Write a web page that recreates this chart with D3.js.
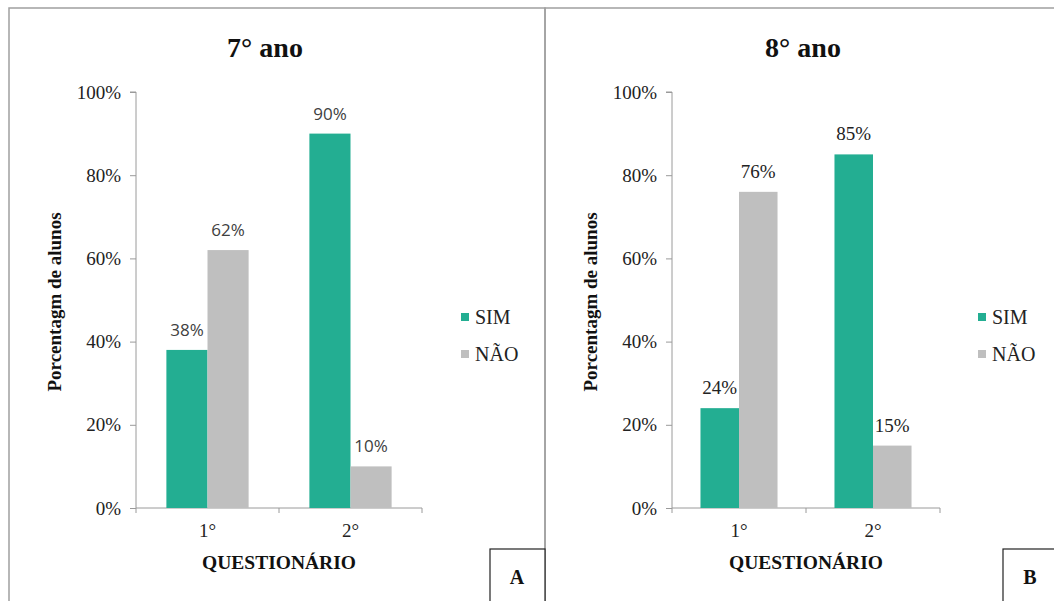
<!DOCTYPE html>
<html>
<head>
<meta charset="utf-8">
<script src="https://cdn.jsdelivr.net/npm/d3@7"></script>
<style>
  html, body { margin: 0; padding: 0; background: #fff; }
  svg { display: block; }
</style>
</head>
<body>
<svg id="chart" width="1054" height="601"></svg>
<script>
// ---- data ----
const categories = ["1°", "2°"];
const seriesNames = ["SIM", "NÃO"];
const sim7 = [38, 90];
const nao7 = [62, 10];
const sim8 = [24, 85];
const nao8 = [76, 15];
const valueLabels7 = ["38%", "62%", "90%", "10%"];
const valueLabels8 = ["24%", "76%", "85%", "15%"];
const yTicks = [0, 20, 40, 60, 80, 100];
const panelTitles = ["7° ano", "8° ano"];
const panelTags = ["A", "B"];
const yAxisTitle = "Porcentagm de alunos";
const xAxisTitle = "QUESTIONÁRIO";

const colors = { "SIM": "#23ae92", "NÃO": "#bfbfbf" };
const serif = "'Liberation Serif', 'Times New Roman', serif";
const sans = "'Open Sans', 'Noto Sans', sans-serif";

const svg = d3.select("#chart");

// panel frames
svg.append("rect").attr("x", 9).attr("y", 8).attr("width", 536).attr("height", 610)
  .attr("fill", "none").attr("stroke", "#a0a0a0").attr("stroke-width", 1.5);
svg.append("rect").attr("x", 545).attr("y", 8).attr("width", 520).attr("height", 610)
  .attr("fill", "none").attr("stroke", "#a0a0a0").attr("stroke-width", 1.5);

const panels = [
  { sim: sim7, nao: nao7, labels: valueLabels7, title: panelTitles[0], tag: panelTags[0],
    x0: 136, x1: 422, titleX: 265, yTitleX: 55, legX: 461, tagBox: [490, 549, 55],
    labelFont: sans, labelSize: 17, labelFill: "#404040" },
  { sim: sim8, nao: nao8, labels: valueLabels8, title: panelTitles[1], tag: panelTags[1],
    x0: 672, x1: 940, titleX: 803, yTitleX: 591, legX: 978, tagBox: [1003, 549, 60],
    labelFont: serif, labelSize: 19, labelFill: "#222" }
];

const yTop = 92, yBot = 508;

panels.forEach(p => {
  const g = svg.append("g");
  const y = d3.scaleLinear().domain([0, 100]).range([yBot, yTop]);
  const x = d3.scaleBand().domain(categories).range([p.x0, p.x1])
    .paddingInner(0.425).paddingOuter(0.2125);
  const xs = d3.scaleBand().domain(seriesNames).range([0, x.bandwidth()]);

  // title
  g.append("text").attr("x", p.titleX).attr("y", 57).attr("text-anchor", "middle")
    .attr("font-family", serif).attr("font-weight", "bold").attr("font-size", 28)
    .attr("fill", "#111").text(p.title);

  // y axis
  const yAxis = d3.axisLeft(y).tickValues(yTicks).tickSize(6).tickPadding(9)
    .tickFormat(d => d + "%");
  const ya = g.append("g").attr("transform", `translate(${p.x0},0)`).call(yAxis);
  ya.select(".domain").attr("stroke", "#9a9a9a").attr("d", `M-6,${yTop}H0V${yBot}`);
  ya.selectAll(".tick line").attr("stroke", "#9a9a9a");
  ya.selectAll(".tick text").attr("font-family", serif).attr("font-size", 19).attr("fill", "#222");

  // x axis
  const xa = g.append("g").attr("transform", `translate(0,${yBot})`);
  xa.append("path").attr("d", `M${p.x0},0H${p.x1}`).attr("stroke", "#9a9a9a").attr("fill", "none");
  const tickXs = [p.x0, ...categories.slice(1).map(c => x(c) - x.step() * x.paddingInner() / 2), p.x1];
  xa.selectAll("line.t").data(tickXs).join("line").attr("class", "t")
    .attr("x1", d => d).attr("x2", d => d).attr("y1", 0).attr("y2", 5).attr("stroke", "#9a9a9a");
  xa.selectAll("text.c").data(categories).join("text").attr("class", "c")
    .attr("x", d => x(d) + x.bandwidth() / 2).attr("y", 29).attr("text-anchor", "middle")
    .attr("font-family", serif).attr("font-size", 19).attr("fill", "#222").text(d => d);

  // axis titles
  g.append("text").attr("x", (p.x0 + p.x1) / 2).attr("y", 569).attr("text-anchor", "middle")
    .attr("font-family", serif).attr("font-weight", "bold").attr("font-size", 19.5)
    .attr("fill", "#111").text(xAxisTitle);
  g.append("text").attr("transform", `translate(${p.yTitleX + 6},${(yTop + yBot) / 2 + 2}) rotate(-90)`)
    .attr("text-anchor", "middle").attr("font-family", serif).attr("font-weight", "bold")
    .attr("font-size", 19).attr("fill", "#111").text(yAxisTitle);

  // bars
  const rows = [];
  categories.forEach((c, i) => {
    rows.push({ c, s: "SIM", v: p.sim[i], lab: p.labels[i * 2] });
    rows.push({ c, s: "NÃO", v: p.nao[i], lab: p.labels[i * 2 + 1] });
  });
  g.selectAll("rect.bar").data(rows).join("rect").attr("class", "bar")
    .attr("x", d => x(d.c) + xs(d.s)).attr("width", xs.bandwidth())
    .attr("y", d => y(d.v)).attr("height", d => yBot - y(d.v))
    .attr("fill", d => colors[d.s]);
  g.selectAll("text.val").data(rows).join("text").attr("class", "val")
    .attr("x", d => x(d.c) + xs(d.s) + xs.bandwidth() / 2).attr("y", d => y(d.v) - 14)
    .attr("text-anchor", "middle").attr("font-family", p.labelFont)
    .attr("font-size", p.labelSize).attr("fill", p.labelFill).text(d => d.lab);

  // legend
  const legY = [317, 354];
  seriesNames.forEach((s, i) => {
    g.append("rect").attr("x", p.legX).attr("y", legY[i] - 4).attr("width", 8).attr("height", 8)
      .attr("fill", colors[s]);
    g.append("text").attr("x", p.legX + 14).attr("y", legY[i] + 7)
      .attr("font-family", serif).attr("font-size", 20).attr("fill", "#222").text(s);
  });

  // tag box
  const [bx, by, bw] = p.tagBox;
  g.append("rect").attr("x", bx).attr("y", by).attr("width", bw).attr("height", 70)
    .attr("fill", "#fff").attr("stroke", "#222").attr("stroke-width", 1.2);
  g.append("text").attr("x", bx + 27).attr("y", 584).attr("text-anchor", "middle")
    .attr("font-family", serif).attr("font-weight", "bold").attr("font-size", 20)
    .attr("fill", "#111").text(p.tag);
});
</script>
</body>
</html>
